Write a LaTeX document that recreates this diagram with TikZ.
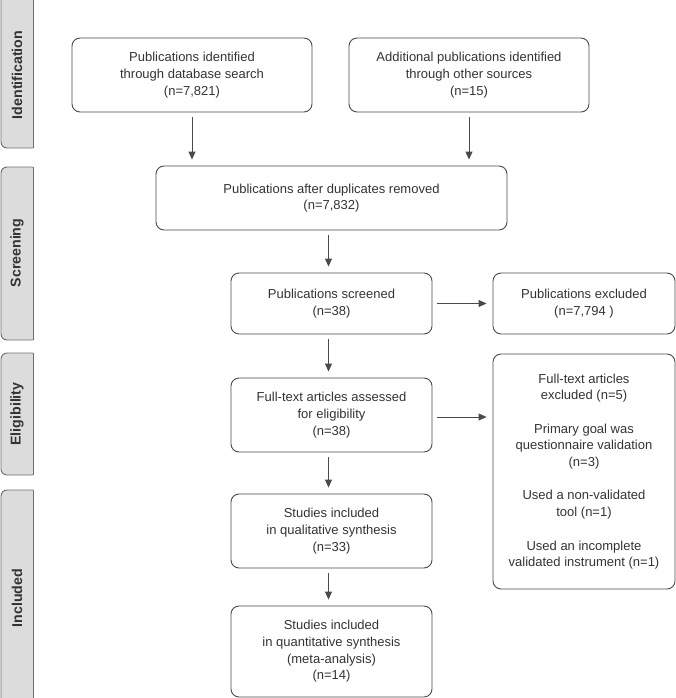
\documentclass[tikz,border=0pt]{standalone}
\usepackage{fontspec}
\setmainfont{Liberation Sans}
\usetikzlibrary{arrows.meta}
\definecolor{txt}{HTML}{333333}
\definecolor{ln}{HTML}{4A4A4A}
\definecolor{barfill}{HTML}{DCDCDC}
\definecolor{barline}{HTML}{6E6E6E}
\tikzset{
  box/.style={draw=ln, line width=0.9pt, rounded corners=8pt, inner sep=0pt, align=center,
    text=txt, font=\fontsize{13}{16.7}\selectfont},
  arr/.style={draw=ln, line width=0.9pt, -{Triangle[width=7pt,length=8pt]}, shorten <=5pt, shorten >=6pt},
  lab/.style={rotate=90, text=txt, font=\fontsize{14.2}{16}\selectfont\bfseries, inner sep=0pt},
  sidebar/.style={fill=barfill, draw=barline, line width=0.9pt, rounded corners=6pt},
  sideedge/.style={draw=barline, line width=0.9pt}
}
\begin{document}
\begin{tikzpicture}[x=1pt,y=-1pt]
\useasboundingbox (0,0) rectangle (676,698);
% side bars
\begin{scope}
\clip (0,0) rectangle (676,698);
\filldraw[sidebar] (33,-10) -- (1,-10) -- (1,148) -- (33,148);
\draw[sideedge] (33,-10) -- (33,148);
\filldraw[sidebar] (33,167) -- (1,167) -- (1,340) -- (33,340);
\draw[sideedge] (33,167) -- (33,340);
\filldraw[sidebar] (33,353) -- (1,353) -- (1,475) -- (33,475);
\draw[sideedge] (33,353) -- (33,475);
\filldraw[sidebar] (33,490) -- (1,490) -- (1,710) -- (33,710);
\draw[sideedge] (33,490) -- (33,710);
\end{scope}
\node[lab] (L1) at (17,75) {Identification};
\node[lab] (L2) at (17,253) {Screening};
\node[lab] (L3) at (17,414) {Eligibility};
\node[lab] (L4) at (17,598) {Included};
% boxes
\node[box, minimum width=240pt, minimum height=74pt] (A) at (192,75)
  {Publications identified\\through database search\\(n=7,821)};
\node[box, minimum width=240pt, minimum height=74pt] (B) at (469,75)
  {Additional publications identified\\through other sources\\(n=15)};
\node[box, minimum width=351pt, minimum height=64pt] (C) at (331.5,198)
  {Publications after duplicates removed\\(n=7,832)};
\node[box, minimum width=201pt, minimum height=61pt] (D) at (331.5,303.5)
  {Publications screened\\(n=38)};
\node[box, minimum width=182pt, minimum height=61pt] (E) at (584,303.5)
  {Publications excluded\\(n=7,794 )};
\node[box, minimum width=201pt, minimum height=74pt] (F) at (331.5,415)
  {Full-text articles assessed\\for eligibility\\(n=38)};
\node[box, minimum width=182pt, minimum height=235pt] (G) at (584,471.5)
  {Full-text articles\\excluded (n=5)\\[16.7pt]Primary goal was\\questionnaire validation\\(n=3)\\[16.7pt]Used a non-validated\\tool (n=1)\\[16.7pt]Used an incomplete\\validated instrument (n=1)};
\node[box, minimum width=201pt, minimum height=74pt] (H) at (331.5,531)
  {Studies included\\in qualitative synthesis\\(n=33)};
\node[box, minimum width=201pt, minimum height=91pt] (I) at (331.5,651.5)
  {Studies included\\in quantitative synthesis\\(meta-analysis)\\(n=14)};
% arrows
\draw[arr] (A.south) -- (A.south |- C.north);
\draw[arr] (B.south) -- (B.south |- C.north);
\draw[arr] ([xshift=-3pt]C.south) -- ([xshift=-3pt]D.north);
\draw[arr] (D.east) -- (E.west);
\draw[arr] ([xshift=-3pt]D.south) -- ([xshift=-3pt]F.north);
\draw[arr] ([yshift=-2pt]F.east) -- ([yshift=-2pt]F.east -| G.west);
\draw[arr] ([xshift=-3pt]F.south) -- ([xshift=-3pt]H.north);
\draw[arr] ([xshift=-3pt]H.south) -- ([xshift=-3pt]I.north);
\end{tikzpicture}
\end{document}
